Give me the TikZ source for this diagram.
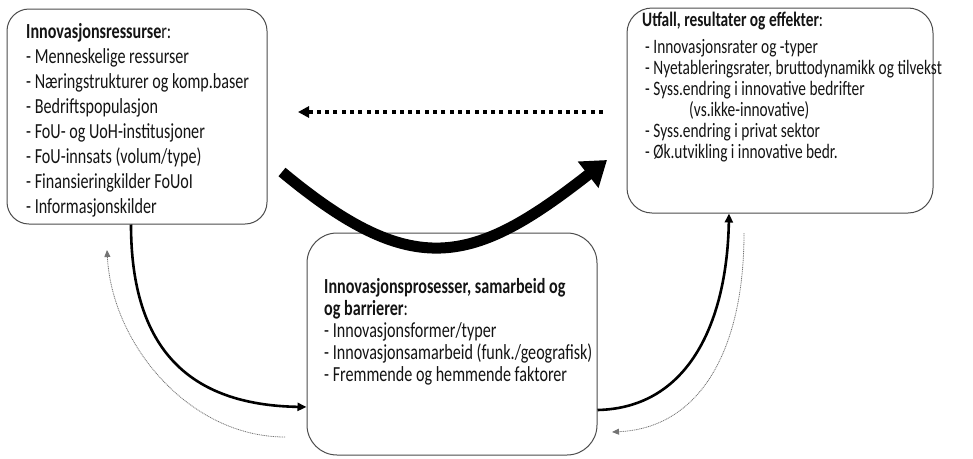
\documentclass[tikz,border=0pt]{standalone}
\usepackage{fontspec}
\setmainfont{Carlito}[FakeStretch=0.75]
\usetikzlibrary{arrows.meta,calc}
\begin{document}
\begin{tikzpicture}[x=1pt,y=-1pt,
  box/.style={draw=black!70, line width=1pt, fill=white, inner sep=0pt},
  txt/.style={anchor=north west, inner sep=0pt, align=left, text=black!92},
  solidarrow/.style={line width=2.6pt, -{Triangle[length=9pt,width=8pt]}},
  thinarrow/.style={draw=black!55, line width=0.8pt, dash pattern=on 1pt off 0.8pt, -{Triangle[length=7pt,width=6pt]}},
  bigarrow/.style={line width=11pt, -{Triangle[length=24pt,width=32pt]}},
  dotarrow/.style={line width=4pt, dash pattern=on 4pt off 4.3pt, -{Triangle[length=11pt,width=11pt]}}]
\useasboundingbox (0,0) rectangle (973,458);

% boxes
\node[box, rounded corners=22pt, minimum width=260pt, minimum height=215pt] (L) at (137,116.5) {};
\node[box, rounded corners=25pt, minimum width=306pt, minimum height=205pt] (R) at (780,110.5) {};
\node[box, rounded corners=30pt, minimum width=290pt, minimum height=222pt] (M) at (452,344) {};

% texts
\node[txt, font=\fontsize{21.5}{25}\selectfont] (Lt) at (26,23) {\textbf{Innovasjonsressurse}r:\\
- Menneskelige ressurser\\
- Næringstrukturer og komp.baser\\
- Bedriftspopulasjon\\
- FoU- og UoH-institusjoner\\
- FoU-innsats (volum/type)\\
- Finansieringkilder FoUoI\\
- Informasjonskilder};

\node[txt, font=\fontsize{20.5}{21}\selectfont] (Rt) at (642,12) {\textbf{Utfall, resultater og effekter}:\\[6pt]
\hspace*{3pt}- Innovasjonsrater og -typer\\
\hspace*{3pt}- Nyetableringsrater, bruttodynamikk og tilvekst\\
\hspace*{3pt}- Syss.endring i innovative bedrifter\\
\hspace*{47pt}(vs.ikke-innovative)\\
\hspace*{3pt}- Syss.endring i privat sektor\\
\hspace*{3pt}- Øk.utvikling i innovative bedr.};

\node[txt, font=\fontsize{21.5}{22}\selectfont] (Mt) at (324,278.5) {\textbf{Innovasjonsprosesser, samarbeid og}\\
\textbf{og barrierer}:\\
- Innovasjonsformer/typer\\
- Innovasjonsamarbeid (funk./geografisk)\\
- Fremmende og hemmende faktorer};

% free end points
\coordinate (bigS) at (282,172);
\coordinate (bigE) at (607,160);
\coordinate (dotS) at (603,112);
\coordinate (dotE) at (298,112);
\coordinate (fbLS) at (285,437);
\coordinate (fbLE) at (107,250);
\coordinate (fbRS) at (744,233);
\coordinate (fbRE) at (612,432);

% connectors
\draw[solidarrow] ([xshift=-6pt]L.south) .. controls (131,350) and (190,405) .. ([yshift=-63pt]M.west);
\draw[solidarrow] ([yshift=-66pt]M.east) .. controls (690,408) and (727,320) .. ([xshift=-51pt]R.south);
\draw[thinarrow] (fbLS) .. controls (190,437) and (112,345) .. (fbLE);
\draw[thinarrow] (fbRS) .. controls (744,350) and (700,428) .. (fbRE);
\draw[dotarrow] (dotS) -- (dotE);
\draw[bigarrow] (bigS) .. controls (413,281) and (473,265) .. (bigE);
\end{tikzpicture}
\end{document}
